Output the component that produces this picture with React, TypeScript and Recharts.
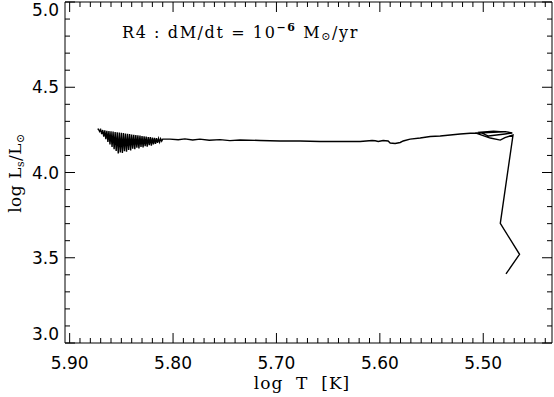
import React from "react";
import { LineChart, Line, XAxis, YAxis } from "recharts";

// evolutionary track, in the order it is traced (bottom right -> hot tip at left)
const logT = [
  5.478, 5.4649, 5.4835, 5.4712,
  // loop at the turn-off
  5.479, 5.4835, 5.4932, 5.5077, 5.498, 5.4787, 5.4719, 5.479, 5.495, 5.5029,
  5.49, 5.48, 5.5, 5.5126,
  // long leftward branch
  5.5223, 5.5319, 5.5416, 5.5513, 5.561, 5.5707, 5.5774, 5.5803, 5.5852, 5.59,
  5.592, 5.5968, 5.6016, 5.6045, 5.6075, 5.6191, 5.6384, 5.6578, 5.6772,
  5.6965, 5.7159, 5.7352, 5.745, 5.7546, 5.765, 5.774, 5.781, 5.7885, 5.795,
  5.803,
  // oscillating tip
  5.81, 5.811, 5.812, 5.813, 5.814, 5.815, 5.816, 5.817, 5.818, 5.819,
  5.82, 5.821, 5.822, 5.823, 5.824, 5.825, 5.826, 5.827, 5.828, 5.829,
  5.83, 5.831, 5.832, 5.833, 5.834, 5.835, 5.836, 5.837, 5.838, 5.839,
  5.84, 5.841, 5.842, 5.843, 5.844, 5.845, 5.846, 5.847, 5.848, 5.849,
  5.85, 5.851, 5.852, 5.853, 5.854, 5.855, 5.856, 5.857, 5.858, 5.859,
  5.86, 5.861, 5.862, 5.863, 5.864, 5.865, 5.866, 5.867, 5.868, 5.869,
  5.87, 5.871, 5.872, 5.873,
];
const logL = [
  3.405, 3.52, 3.702, 4.22,
  4.205, 4.19, 4.202, 4.232, 4.236, 4.24, 4.232, 4.226, 4.214, 4.236,
  4.242, 4.238, 4.233, 4.23,
  4.226, 4.22, 4.214, 4.211, 4.202, 4.196, 4.185, 4.176, 4.17, 4.173,
  4.185, 4.188, 4.182, 4.186, 4.188, 4.182, 4.182, 4.182, 4.185,
  4.185, 4.188, 4.191, 4.187, 4.193, 4.189, 4.196, 4.191, 4.197, 4.192,
  4.196,
  4.196, 4.184, 4.198, 4.178, 4.199, 4.174, 4.201, 4.168, 4.203, 4.165,
  4.205, 4.158, 4.207, 4.16, 4.208, 4.152, 4.21, 4.155, 4.212, 4.147,
  4.214, 4.15, 4.216, 4.141, 4.218, 4.145, 4.22, 4.136, 4.221, 4.14,
  4.223, 4.13, 4.225, 4.132, 4.227, 4.122, 4.229, 4.125, 4.231, 4.114,
  4.233, 4.118, 4.234, 4.112, 4.236, 4.126, 4.238, 4.136, 4.24, 4.15,
  4.241, 4.165, 4.243, 4.18, 4.245, 4.195, 4.247, 4.21, 4.249, 4.225,
  4.251, 4.24, 4.253, 4.256,
];

const xMajor = [5.9, 5.8, 5.7, 5.6, 5.5];
const yMajor = [3.0, 3.5, 4.0, 4.5, 5.0];
const xTicks = Array.from({ length: 47 }, (_, i) => +(5.44 + i * 0.01).toFixed(2));
const yTicks = Array.from({ length: 21 }, (_, i) => +(3 + i * 0.1).toFixed(1));

const data = logT.map((t, i) => ({ t, l: logL[i] }));

const isMajor = (v: number, list: number[]) => list.some((m) => Math.abs(m - v) < 1e-6);
const numFont = "'DejaVu Sans', sans-serif";
const serif = "'DejaVu Serif', serif";

const BottomTick = (p: any) => {
  const v = p.payload.value;
  const major = isMajor(v, xMajor);
  return (
    <g>
      <line x1={p.x} x2={p.x} y1={p.y} y2={p.y - (major ? 10 : 5)} stroke="#000" />
      {major && (
        <text x={p.x} y={p.y + 20} textAnchor="middle" dominantBaseline="central"
          fontFamily={numFont} fontSize={17} fill="#000">
          {v.toFixed(2)}
        </text>
      )}
    </g>
  );
};

const TopTick = (p: any) => {
  const major = isMajor(p.payload.value, xMajor);
  return <line x1={p.x} x2={p.x} y1={p.y} y2={p.y + (major ? 10 : 5)} stroke="#000" />;
};

const LeftTick = (p: any) => {
  const v = p.payload.value;
  const major = isMajor(v, yMajor);
  // first and last labels are nudged inside the frame
  const dy = v === 3 ? -9 : v === 5 ? 8 : 0;
  return (
    <g>
      <line x1={p.x} x2={p.x + (major ? 10 : 5)} y1={p.y} y2={p.y} stroke="#000" />
      {major && (
        <text x={p.x - 6} y={p.y + dy} textAnchor="end" dominantBaseline="central"
          fontFamily={numFont} fontSize={17} fill="#000">
          {v.toFixed(1)}
        </text>
      )}
    </g>
  );
};

const RightTick = (p: any) => {
  const major = isMajor(p.payload.value, yMajor);
  return <line x1={p.x} x2={p.x - (major ? 10 : 5)} y1={p.y} y2={p.y} stroke="#000" />;
};

const App: React.FC = () => {
  return (
    <div style={{ position: "absolute", left: 0, top: 0, width: 554, height: 397, background: "#fff" }}>
      <LineChart width={554} height={397} data={data}
        margin={{ top: 1, right: 1, bottom: 14, left: 15 }}>
        <XAxis xAxisId="bottom" dataKey="t" type="number" reversed
          domain={[5.4335, 5.9045]} allowDataOverflow ticks={xTicks} interval={0}
          height={40} tickSize={0} tickMargin={0} tickLine={false}
          axisLine={{ stroke: "#000" }} tick={<BottomTick />} />
        <XAxis xAxisId="top" orientation="top" dataKey="t" type="number" reversed
          domain={[5.4335, 5.9045]} allowDataOverflow ticks={xTicks} interval={0}
          height={1} tickSize={0} tickMargin={0} tickLine={false}
          axisLine={{ stroke: "#000" }} tick={<TopTick />} />
        <YAxis yAxisId="left" type="number" domain={[3, 5]} allowDataOverflow
          ticks={yTicks} interval={0} width={50} tickSize={0} tickMargin={0}
          tickLine={false} axisLine={{ stroke: "#000" }} tick={<LeftTick />} />
        <YAxis yAxisId="right" orientation="right" type="number" domain={[3, 5]}
          allowDataOverflow ticks={yTicks} interval={0} width={1} tickSize={0}
          tickMargin={0} tickLine={false} axisLine={{ stroke: "#000" }} tick={<RightTick />} />
        <Line xAxisId="bottom" yAxisId="left" dataKey="l" type="linear" stroke="#000"
          strokeWidth={1.4} dot={false} isAnimationActive={false} />
      </LineChart>

      <div style={{ position: "absolute", left: 122, top: 21, fontFamily: serif, fontSize: 16,
        whiteSpace: "pre", color: "#000", letterSpacing: 1.6 }}>
        R4 : dM/dt = 10<span style={{ fontSize: 11, verticalAlign: 7, fontWeight: "bold" }}>−6</span>{" "}
        M<span style={{ fontSize: 11, verticalAlign: -2 }}>⊙</span>/yr
      </div>

      <div style={{ position: "absolute", left: 302, top: 383, transform: "translate(-50%, -50%)",
        fontFamily: serif, fontSize: 17, whiteSpace: "pre", color: "#000", letterSpacing: 1 }}>
        log  T  [K]
      </div>

      <div style={{ position: "absolute", left: 16, top: 173, transform: "translate(-50%, -50%) rotate(-90deg)",
        fontFamily: serif, fontSize: 17, whiteSpace: "pre", color: "#000", letterSpacing: 0.5 }}>
        log L<span style={{ fontSize: 11, verticalAlign: -3 }}>s</span>/L<span style={{ fontSize: 11, verticalAlign: -3 }}>⊙</span>
      </div>
    </div>
  );
};

export default App;
